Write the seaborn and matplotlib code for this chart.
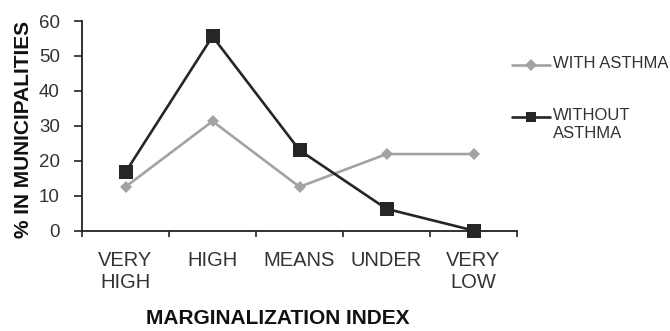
import numpy as np
import pandas as pd
import matplotlib
matplotlib.use("Agg")
import matplotlib.pyplot as plt
from matplotlib.lines import Line2D
import seaborn as sns

# Marginalization index categories (x axis)
categories = ["VERY\nHIGH", "HIGH", "MEANS", "UNDER", "VERY\nLOW"]
# Percentage of municipalities in each category
with_asthma = [12.5, 31.3, 12.5, 21.9, 21.9]
without_asthma = [16.7, 55.6, 23.0, 6.2, 0.0]
series_names = ["WITH ASTHMA", "WITHOUT ASTHMA"]
y_ticks = [0, 10, 20, 30, 40, 50, 60]

colors = {"WITH ASTHMA": "#a3a3a3", "WITHOUT ASTHMA": "#262626"}
markers = {"WITH ASTHMA": "D", "WITHOUT ASTHMA": "s"}
msizes = {"WITH ASTHMA": 6.2, "WITHOUT ASTHMA": 9.5}

pos = np.arange(len(categories))
df = pd.DataFrame({
    "pos": np.concatenate([pos, pos]),
    "pct": with_asthma + without_asthma,
    "series": [series_names[0]] * len(pos) + [series_names[1]] * len(pos),
})

sns.set_style("white")
plt.rcParams["font.family"] = ["Liberation Sans", "DejaVu Sans"]

W, H = 670, 331
fig = plt.figure(figsize=(W / 100, H / 100), dpi=100)
ax = fig.add_axes([82 / W, 1 - 230.5 / H, 435 / W, 209.5 / H])

for name in series_names:
    sub = df[df["series"] == name]
    sns.lineplot(data=sub, x="pos", y="pct", ax=ax, color=colors[name],
                 marker=markers[name], markersize=msizes[name],
                 markeredgewidth=0, linewidth=1.9, legend=False,
                 clip_on=False, zorder=3 if name == "WITHOUT ASTHMA" else 2)

ax.set_xlim(-0.5, len(categories) - 0.5)
ax.set_ylim(0, 60)
ax.set_yticks(y_ticks)
ax.set_yticklabels([str(v) for v in y_ticks])

# Boundary ticks between categories, labels centred on categories
ax.set_xticks(np.arange(-0.5, len(categories), 1.0))
ax.set_xticklabels([])
ax.set_xticks(pos, minor=True)
ax.set_xticklabels(categories, minor=True, linespacing=1.2,
                   multialignment="center")

for s in ["top", "right"]:
    ax.spines[s].set_visible(False)
for s in ["left", "bottom"]:
    ax.spines[s].set_color("#222222")
    ax.spines[s].set_linewidth(1.3)

ax.tick_params(axis="y", which="major", direction="out", length=6,
               width=1.2, color="#222222", pad=10, labelsize=13.5,
               labelcolor="#333333", left=True)
ax.tick_params(axis="x", which="major", direction="out", length=4.5,
               width=1.2, color="#222222", bottom=True)
ax.tick_params(axis="x", which="minor", length=0, pad=15, labelsize=14.5,
               labelcolor="#333333")

ax.set_xlabel("MARGINALIZATION INDEX", fontsize=15, fontweight="bold",
              color="#111111", va="center")
ax.xaxis.set_label_coords((277.5 - 82) / 435, (230.5 - 319) / 209.5)
ax.set_ylabel("% IN MUNICIPALITIES", fontsize=15, fontweight="bold",
              color="#111111", va="center")
ax.yaxis.set_label_coords((24 - 82) / 435, (230.5 - 129) / 209.5)

# Legend drawn beside the axes
def fx(px):
    return px / W

def fy(py):
    return 1 - py / H

legend_rows = [("WITH ASTHMA", "WITH ASTHMA", 65, 6.0),
               ("WITHOUT ASTHMA", "WITHOUT\nASTHMA", 117, 7.0)]
for name, label, ly, ms in legend_rows:
    fig.add_artist(Line2D([fx(512), fx(550)], [fy(ly), fy(ly)],
                          color=colors[name], linewidth=1.9))
    fig.add_artist(Line2D([fx(531)], [fy(ly)], color=colors[name],
                          marker=markers[name], markersize=ms,
                          markeredgewidth=0, linestyle="none"))
    fig.text(fx(553), fy(ly - 8.5), label, fontsize=12, color="#333333",
             ha="left", va="top", linespacing=1.2)

fig.savefig("out.png", dpi=100)
